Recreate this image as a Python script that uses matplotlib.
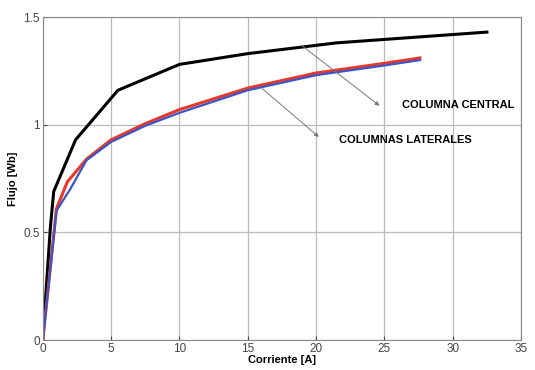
import matplotlib
matplotlib.use("Agg")
import matplotlib.pyplot as plt

plt.rcParams['font.family'] = ['Liberation Sans', 'DejaVu Sans']

# Curva de magnetizacion - columna central
i_central = [0, 0.55, 0.8, 2.4, 5.5, 10.0, 15.0, 21.5, 27.0, 32.5]
phi_central = [0, 0.52, 0.69, 0.93, 1.16, 1.28, 1.33, 1.38, 1.405, 1.43]

# Columnas laterales (dos curvas casi iguales)
i_lat_r = [0, 1.0, 1.8, 3.2, 5.0, 7.5, 10.0, 15.0, 20.0, 25.0, 27.6]
phi_lat_r = [0, 0.61, 0.735, 0.84, 0.93, 1.005, 1.07, 1.17, 1.24, 1.285, 1.31]

i_lat_b = [0, 1.0, 2.0, 3.2, 5.0, 7.5, 10.0, 15.0, 20.0, 25.0, 27.6]
phi_lat_b = [0, 0.60, 0.70, 0.835, 0.92, 0.995, 1.055, 1.16, 1.23, 1.275, 1.30]

fig = plt.figure(figsize=(5.35, 3.7), dpi=100)
ax = fig.add_axes([0.080, 0.081, 0.894, 0.873])

ax.plot(i_central, phi_central, color='black', lw=2.2)
ax.plot(i_lat_r, phi_lat_r, color='#e8382a', lw=2.2)
ax.plot(i_lat_b, phi_lat_b, color='#3a55c8', lw=1.6)

ax.set_xlim(0, 35)
ax.set_ylim(0, 1.5)
ax.set_xticks(range(0, 36, 5))
ax.set_yticks([0, 0.5, 1, 1.5])
ax.set_yticklabels(['0', '0.5', '1', '1.5'])
ax.grid(True, color='#bbbbbb', lw=0.9)
ax.tick_params(labelsize=8.5, colors='#444444', length=3, direction='in', pad=2)
for s in ax.spines.values():
    s.set_color('#888888')

ax.set_xlabel('Corriente [A]', fontsize=8, fontweight='bold', labelpad=0)
ax.set_ylabel('Flujo [Wb]', fontsize=8, fontweight='bold', labelpad=4)

arrow = dict(arrowstyle='-|>', color='#777777', lw=0.7, mutation_scale=6)
ax.annotate('', xy=(24.8, 1.08), xytext=(18.8, 1.375), arrowprops=arrow)
ax.annotate('', xy=(20.35, 0.935), xytext=(15.9, 1.176), arrowprops=arrow)
ax.text(26.3, 1.09, 'COLUMNA CENTRAL', fontsize=8, fontweight='bold', va='center')
ax.text(21.7, 0.93, 'COLUMNAS LATERALES', fontsize=8, fontweight='bold', va='center')

fig.savefig('out.png', dpi=100)
